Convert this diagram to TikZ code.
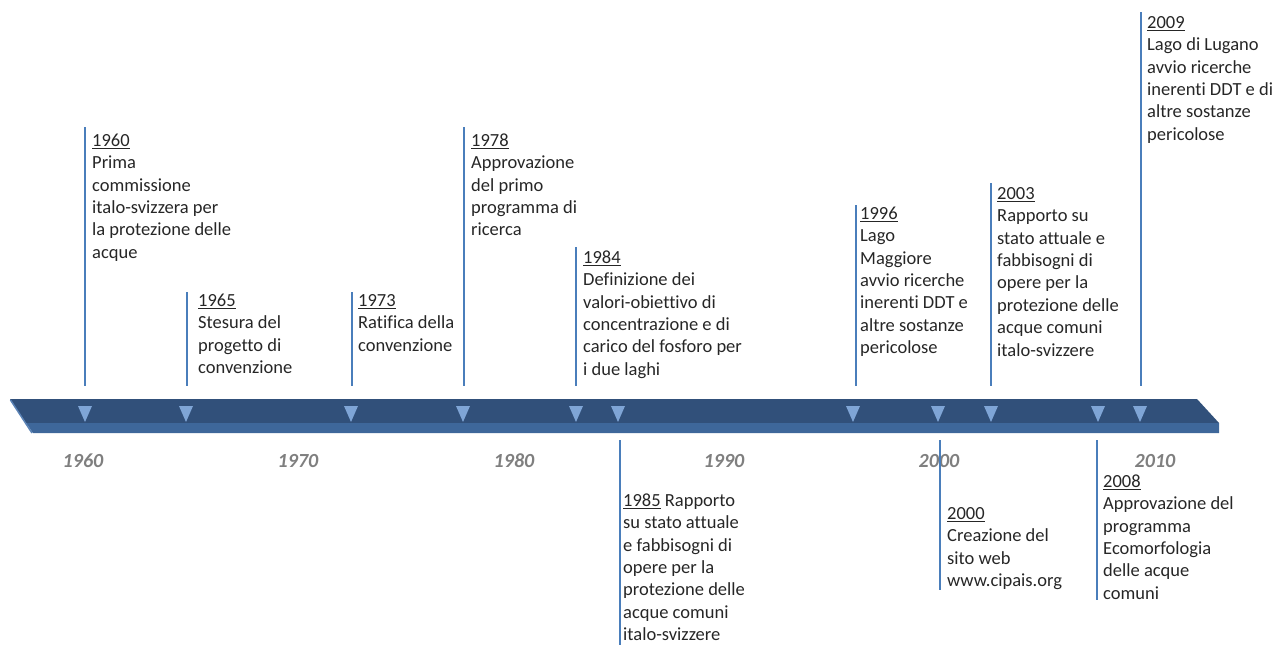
\documentclass[tikz,border=0pt]{standalone}
\usepackage{fontspec}
\setmainfont{Carlito}[Ligatures=NoCommon]
\definecolor{bardark}{HTML}{31507A}
\definecolor{barlight}{HTML}{3E679A}
\definecolor{barside}{HTML}{5A82B5}
\definecolor{mkcol}{HTML}{7FA5D6}
\definecolor{evcol}{HTML}{4A7EBB}
\definecolor{txtcol}{HTML}{262626}
\definecolor{yrcol}{HTML}{7F7F7F}
\tikzset{
  evline/.style={draw=evcol, line width=1.8pt},
  evtext/.style={anchor=north west, inner sep=0pt, align=left, text=txtcol,
    font=\fontsize{18.5}{22.4}\selectfont},
  yrlab/.style={anchor=base, inner sep=0pt, text=yrcol,
    font=\fontsize{20}{24}\selectfont\bfseries\itshape},
  mk/.style={fill=mkcol},
}
\newcommand{\fl}{\rule{0pt}{15pt}}
\begin{document}
\begin{tikzpicture}[x=1pt,y=-1pt]
\useasboundingbox (0,0) rectangle (1277,645);
% bar
\fill[bardark] (10,399) -- (1197,399) -- (1219,423) -- (26,423) -- cycle;
\fill[barlight] (26,423) -- (1219,423) -- (1219,433) -- (33,433) -- cycle;
\draw[barside, line width=1.5pt] (10.5,400) -- (32,433);
% markers
\foreach \x in {85,186,351,463,576,618,853,938,991,1098,1140}
  \fill[mk] (\x-7,406) -- (\x+7,406) -- (\x,422) -- cycle;
% year labels
\node[yrlab] (y1960) at (83,467) {1960};
\node[yrlab] (y1970) at (298,467) {1970};
\node[yrlab] (y1980) at (514,467) {1980};
\node[yrlab] (y1990) at (724,467) {1990};
\node[yrlab] (y2000) at (939,467) {2000};
\node[yrlab] (y2010) at (1155,467) {2010};
% event lines
\foreach \n/\x/\ya/\yb in {1960/85/127/386, 1965/187/292/386, 1973/352/292/386,
   1978/464/127/386, 1984/576/247/386, 1996/856/205/386, 2003/991/183/386,
   2009/1141/12/386, 1985/620/440/645, 2000/940/440/590, 2008/1097/440/600}{
  \coordinate (top\n) at (\x,\ya);
  \coordinate (bot\n) at (\x,\yb);
  \draw[evline] (top\n) -- (bot\n);
}
% event texts
\node[evtext] (t1960) at (92,131) {\fl\underline{1960}\\Prima\\commissione\\italo-svizzera per\\la protezione delle\\acque};
\node[evtext] (t1965) at (198,291) {\fl\underline{1965}\\Stesura del\\progetto di\\convenzione};
\node[evtext] (t1973) at (358,291) {\fl\underline{1973}\\Ratifica della\\convenzione};
\node[evtext] (t1978) at (471,131) {\fl\underline{1978}\\Approvazione\\del primo\\programma di\\ricerca};
\node[evtext] (t1984) at (583,248) {\fl\underline{1984}\\Definizione dei\\valori-obiettivo di\\concentrazione e di\\carico del fosforo per\\i due laghi};
\node[evtext] (t1996) at (860,204) {\fl\underline{1996}\\Lago\\Maggiore\\avvio ricerche\\inerenti DDT e\\altre sostanze\\pericolose};
\node[evtext] (t2003) at (997,184) {\fl\underline{2003}\\Rapporto su\\stato attuale e\\fabbisogni di\\opere per la\\protezione delle\\acque comuni\\italo-svizzere};
\node[evtext] (t2009) at (1147,13) {\fl\underline{2009}\\Lago di Lugano\\avvio ricerche\\inerenti DDT e di\\altre sostanze\\pericolose};
\node[evtext] (t1985) at (623,491) {\fl\underline{1985} Rapporto\\su stato attuale\\e fabbisogni di\\opere per la\\protezione delle\\acque comuni\\italo-svizzere};
\node[evtext] (t2000) at (947,504) {\fl\underline{2000}\\Creazione del\\sito web\\www.cipais.org};
\node[evtext] (t2008) at (1103,472) {\fl\underline{2008}\\Approvazione del\\programma\\Ecomorfologia\\delle acque\\comuni};
\end{tikzpicture}
\end{document}
